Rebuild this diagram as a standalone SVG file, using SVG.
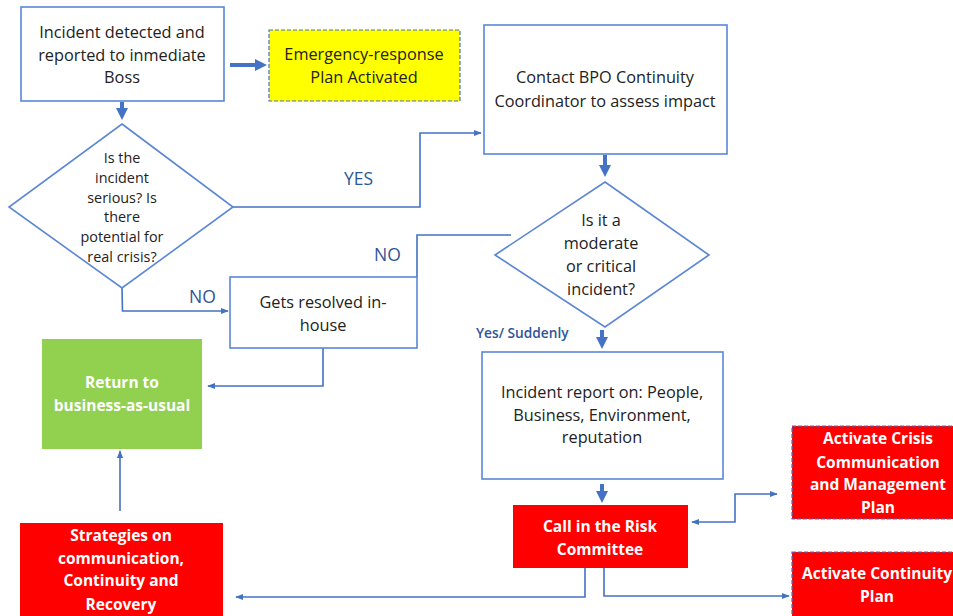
<svg xmlns="http://www.w3.org/2000/svg" width="953" height="616" viewBox="0 0 953 616">
<style>
.box{fill:#fff;stroke:#5B87D6;stroke-width:1.6}
.t{font-family:"Open Sans","Liberation Sans",Arial,sans-serif;font-size:16.3px;fill:#222;text-anchor:middle}
.tb{font-family:"Open Sans","Liberation Sans",Arial,sans-serif;font-size:15.5px;font-weight:bold;fill:#fff;text-anchor:middle}
.ts{font-family:"Open Sans","Liberation Sans",Arial,sans-serif;font-size:14.4px;fill:#222;text-anchor:middle}
.lbl{font-family:"Open Sans","Liberation Sans",Arial,sans-serif;font-size:17.5px;fill:#2F5597}
.lbls{font-family:"Open Sans","Liberation Sans",Arial,sans-serif;font-size:13.7px;fill:#2F5597;font-weight:600}
.c{fill:none;stroke:#4472C4;stroke-width:1.6}
.ct{fill:none;stroke:#4472C4;stroke-width:4}
.red{fill:#FF0000}
.dash{stroke:#4472C4;stroke-width:1.2;stroke-dasharray:4 2}
</style>
<defs>
<marker id="a" viewBox="0 0 10 10" refX="9" refY="5" markerWidth="5" markerHeight="5" orient="auto-start-reverse"><path d="M0,1 L10,5 L0,9 Z" fill="#4472C4"/></marker>
<marker id="ab" viewBox="0 0 10 10" refX="0" refY="5" markerWidth="3" markerHeight="3" orient="auto"><path d="M0,0 L10,5 L0,10 Z" fill="#4472C4"/></marker>
</defs>

<g id="connectors">
<path class="ct" d="M230,65 H255" marker-end="url(#ab)"/>
<path class="ct" d="M122,102 V108" marker-end="url(#ab)"/>
<path class="ct" d="M605,155 V165" marker-end="url(#ab)"/>
<path class="ct" d="M602,330 V337" marker-end="url(#ab)"/>
<path class="ct" d="M602,484 V491" marker-end="url(#ab)"/>
<path class="c" d="M233,207 H420 V133 H481" marker-end="url(#a)"/>
<path class="c" d="M511,235 H417 V277"/>
<path class="c" d="M122,288 L122.5,311 H228" marker-end="url(#a)"/>
<path class="c" d="M323,348 V386 H208" marker-end="url(#a)"/>
<path class="c" d="M120,511 V451" marker-end="url(#a)"/>
<path class="c" d="M585,568 V597 H236" marker-end="url(#a)"/>
<path class="c" d="M604,568 V596 H789" marker-end="url(#a)"/>
<path class="c" d="M692,522 H735 V494 H777" marker-start="url(#a)" marker-end="url(#a)"/>
<text class="lbl" x="344" y="185">YES</text>
<text class="lbl" x="374" y="261">NO</text>
<text class="lbl" x="189" y="303">NO</text>
<text class="lbls" x="476" y="338">Yes/ Suddenly</text>
</g>

<g id="n1">
<rect class="box" x="21" y="7" width="203" height="94"/>
<text class="t" x="122" y="38">Incident detected and</text>
<text class="t" x="122" y="61">reported to inmediate</text>
<text class="t" x="122" y="83">Boss</text>
</g>

<g id="n2">
<rect x="269" y="30" width="191" height="71" fill="#FFFF00" class="dash"/>
<text class="t" x="364" y="60">Emergency-response</text>
<text class="t" x="364" y="83">Plan Activated</text>
</g>

<g id="d1">
<polygon class="box" points="122,124 233,207 122,288 9,207"/>
<text class="ts" x="122" y="163">Is the</text>
<text class="ts" x="122" y="183">incident</text>
<text class="ts" x="122" y="203">serious? Is</text>
<text class="ts" x="122" y="222">there</text>
<text class="ts" x="122" y="242">potential for</text>
<text class="ts" x="122" y="262">real crisis?</text>
</g>

<g id="n3">
<rect class="box" x="484" y="25" width="243" height="129"/>
<text class="t" x="605" y="83">Contact BPO Continuity</text>
<text class="t" x="605" y="107">Coordinator to assess impact</text>
</g>

<g id="d2">
<polygon class="box" points="605,182 709,255 605,327 495,255"/>
<text class="t" x="601" y="226">Is it a</text>
<text class="t" x="601" y="249">moderate</text>
<text class="t" x="601" y="272">or critical</text>
<text class="t" x="601" y="295">incident?</text>
</g>

<g id="n4">
<rect class="box" x="230" y="277" width="187" height="71"/>
<text class="t" x="323" y="308">Gets resolved in-</text>
<text class="t" x="323" y="331">house</text>
</g>

<g id="n5">
<rect x="42" y="339" width="160" height="110" fill="#92D050"/>
<text class="tb" x="122" y="388">Return to</text>
<text class="tb" x="122" y="411">business-as-usual</text>
</g>

<g id="n6">
<rect class="box" x="482" y="352" width="241" height="127"/>
<text class="t" x="602" y="398">Incident report on: People,</text>
<text class="t" x="602" y="421">Business, Environment,</text>
<text class="t" x="602" y="443">reputation</text>
</g>

<g id="n7">
<rect class="red" x="513" y="505" width="175" height="63"/>
<text class="tb" x="600" y="532">Call in the Risk</text>
<text class="tb" x="600" y="555">Committee</text>
</g>

<g id="n8">
<rect class="red" x="20" y="523" width="203" height="100"/>
<text class="tb" x="121" y="541">Strategies on</text>
<text class="tb" x="121" y="564">communication,</text>
<text class="tb" x="121" y="586">Continuity and</text>
<text class="tb" x="121" y="610">Recovery</text>
</g>

<g id="n9">
<rect class="red dash" x="792" y="426" width="165" height="93"/>
<text class="tb" x="878" y="444">Activate Crisis</text>
<text class="tb" x="878" y="468">Communication</text>
<text class="tb" x="878" y="490">and Management</text>
<text class="tb" x="878" y="513">Plan</text>
</g>

<g id="n10">
<rect class="red dash" x="792" y="552" width="165" height="70"/>
<text class="tb" x="877" y="579">Activate Continuity</text>
<text class="tb" x="877" y="602">Plan</text>
</g>
</svg>
